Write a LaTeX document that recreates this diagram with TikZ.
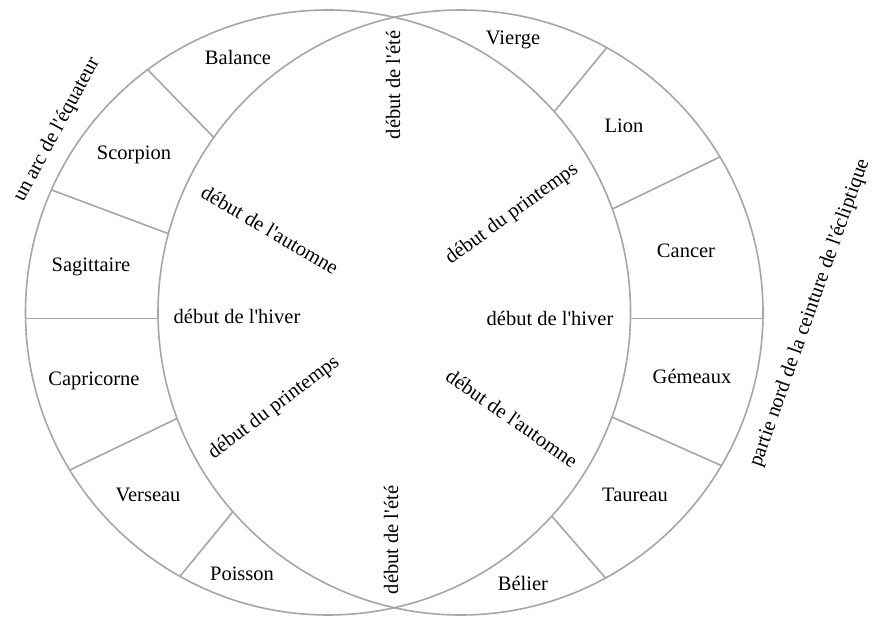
\documentclass[tikz,border=0pt]{standalone}
\usepackage{fontspec}
\setmainfont{Liberation Serif}[Ligatures=TeXOff]
\usetikzlibrary{calc}
\begin{document}
\begin{tikzpicture}[x=1pt,y=-1pt,
  ring/.style={draw=black!35, line width=1.6pt},
  lab/.style={font=\fontsize{20.5}{23}\selectfont, inner sep=0pt, text=black}]
\useasboundingbox (0,0) rectangle (880,617);
\coordinate (C1) at (328,312.5);
\coordinate (C2) at (460.5,312.5);
\def\R{302.5}
\draw[ring] (C1) circle[radius=\R];
\draw[ring] (C2) circle[radius=\R];
% left band dividers (outer on C1, inner on C2)
\coordinate (lo1) at ($(C1)+(233.4:\R)$);   \coordinate (li1) at ($(C2)+(215.35:\R)$);
\coordinate (lo2) at ($(C1)+(203.9:\R)$);   \coordinate (li2) at ($(C2)+(195.1:\R)$);
\coordinate (lo3) at ($(C1)+(178.86:\R)$);  \coordinate (li3) at ($(C2)+(178.86:\R)$);
\coordinate (lo4) at ($(C1)+(148.6:\R)$);   \coordinate (li4) at ($(C2)+(159.5:\R)$);
\coordinate (lo5) at ($(C1)+(119.3:\R)$);   \coordinate (li5) at ($(C2)+(138.8:\R)$);
% right band dividers (outer on C2, inner on C1)
\coordinate (ro1) at ($(C2)+(-61.1:\R)$);   \coordinate (ri1) at ($(C1)+(-41.6:\R)$);
\coordinate (ro2) at ($(C2)+(-30.95:\R)$);  \coordinate (ri2) at ($(C1)+(-20.0:\R)$);
\coordinate (ro3) at ($(C2)+(1.14:\R)$);    \coordinate (ri3) at ($(C1)+(1.14:\R)$);
\coordinate (ro4) at ($(C2)+(30.4:\R)$);    \coordinate (ri4) at ($(C1)+(20.2:\R)$);
\coordinate (ro5) at ($(C2)+(61.35:\R)$);   \coordinate (ri5) at ($(C1)+(42.3:\R)$);
\foreach \k in {1,...,5}{
  \draw[ring] (lo\k) -- (li\k);
  \draw[ring] (ro\k) -- (ri\k);
}
% zodiac signs
\node[lab] (balance) at (238,57) {Balance};
\node[lab] (scorpion) at (134,155) {Scorpion};
\node[lab] (sagittaire) at (91,267) {Sagittaire};
\node[lab] (capricorne) at (94,381) {Capricorne};
\node[lab] (verseau) at (148,495) {Verseau};
\node[lab] (poisson) at (242,574) {Poisson};
\node[lab] (vierge) at (513,40) {Vierge};
\node[lab] (lion) at (624,126) {Lion};
\node[lab] (cancer) at (686,251) {Cancer};
\node[lab] (gemeaux) at (692,376) {Gémeaux};
\node[lab] (taureau) at (635,495) {Taureau};
\node[lab] (belier) at (523,583) {Bélier};
% seasons
\node[lab] (hiverL) at (237,316) {début de l'hiver};
\node[lab] (hiverR) at (550,318) {début de l'hiver};
\node[lab, rotate=90] (eteT) at (393,85) {début de l'été};
\node[lab, rotate=90] (eteB) at (391,540) {début de l'été};
\node[lab, rotate=-30.5] (automneUL) at (270,230) {début de l'automne};
\node[lab, rotate=36] (printempsUR) at (512,214) {début du printemps};
\node[lab, rotate=37] (printempsLL) at (274,408) {début du printemps};
\node[lab, rotate=-35] (automneLR) at (512,418) {début de l'automne};
% outer labels
\node[lab, rotate=61.5] (equateur) at (57,130) {un arc de l'équateur};
\node[lab, rotate=70.5] (ecliptique) at (810,313) {partie nord de la ceinture de l'écliptique};
\end{tikzpicture}
\end{document}
